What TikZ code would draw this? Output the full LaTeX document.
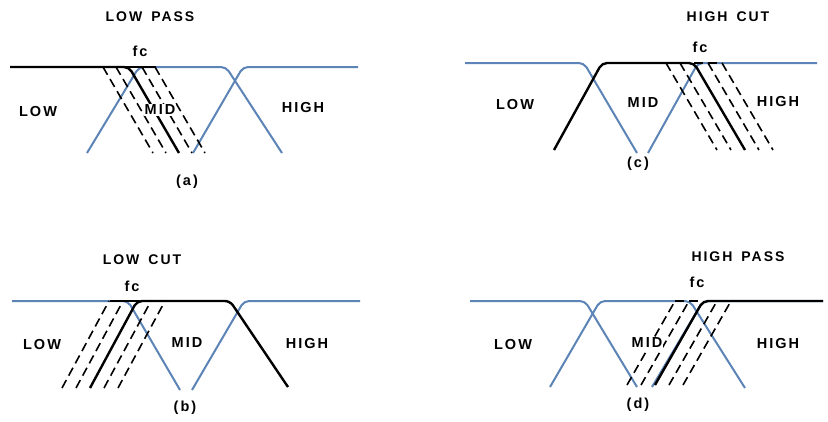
\documentclass[tikz,border=0pt]{standalone}
\usepackage{fontspec}
\setmainfont{Liberation Sans}[LetterSpace=14]
\definecolor{bandblue}{RGB}{92,132,182}
\tikzset{
  blueline/.style={draw=bandblue, line width=2pt, rounded corners=5pt},
  blackline/.style={draw=black, line width=2.4pt, rounded corners=5pt},
  dashline/.style={draw=black, line width=1.6pt, dash pattern=on 9pt off 5pt},
  lbl/.style={font=\fontsize{14.5}{16}\selectfont\bfseries, inner sep=0pt, anchor=center},
  ttl/.style={font=\fontsize{14}{16}\selectfont\bfseries, inner sep=0pt, anchor=center},
  knock/.style={fill=white, inner xsep=1pt, inner ysep=1.5pt}
}
\begin{document}
\begin{tikzpicture}[x=1pt,y=-1pt]
\useasboundingbox[fill=white] (0,0) rectangle (828,421);

% ---------------- panel (a) LOW PASS ----------------
\draw[blueline] (87,153) -- (139,67) -- (226,67) -- (282,153);
\draw[blueline] (193,153) -- (243,67) -- (358,67);
\draw[blackline] (10,67) -- (129,67) -- (179,153);
\draw[blackline,rounded corners=0pt] (125,67) -- (156,67);
\foreach \t in {103,116,142,155}
  \draw[dashline] (\t,67) -- ({\t+50},153);
\node[ttl] (ta) at (150,17) {LOW\hspace{9pt}PASS};
\node[lbl] (fa) at (140,51) {fc};
\node[lbl] (la) at (38,112) {LOW};
\node[lbl,knock] (ma) at (160,110) {MID};
\node[lbl] (ha) at (303,108) {HIGH};
\node[lbl] (ca) at (187,182) {(a)};

% ---------------- panel (c) HIGH CUT ----------------
\draw[blueline] (465,63) -- (584,63) -- (637,153);
\draw[blueline] (648,153) -- (698,63) -- (817,63);
\draw[blackline] (554,150) -- (602,63) -- (694,63) -- (745,150);
\draw[dashline] (694,63) -- (722,63);
\foreach \t in {666,680,708,722}
  \draw[dashline] (\t,63) -- ({\t+51},150);
\node[ttl] (tc) at (728,17) {HIGH\hspace{9pt}CUT};
\node[lbl] (fcc) at (700,47) {fc};
\node[lbl] (lc) at (515,105) {LOW};
\node[lbl] (mc) at (643,103) {MID};
\node[lbl] (hc) at (778,102) {HIGH};
\node[lbl] (cc) at (638,164) {(c)};

% ---------------- panel (b) LOW CUT ----------------
\draw[blueline] (12,301) -- (128,301) -- (180,390);
\draw[blueline] (192,390) -- (244,301) -- (360,301);
\draw[blackline] (90,388) -- (137,301) -- (230,301) -- (288,387);
\draw[blackline,rounded corners=0pt] (110,301) -- (140,301);
\foreach \b in {62,76,104,118}
  \draw[dashline] (\b,388) -- ({\b+47},301);
\node[ttl] (tb) at (142,260) {LOW\hspace{9pt}CUT};
\node[lbl] (fb) at (132,286) {fc};
\node[lbl] (lb) at (42,345) {LOW};
\node[lbl] (mb) at (187,343) {MID};
\node[lbl] (hb) at (307,344) {HIGH};
\node[lbl] (cb) at (185,408) {(b)};

% ---------------- panel (d) HIGH PASS ----------------
\draw[blueline] (470,301) -- (585,301) -- (637,387);
\draw[blueline] (550,387) -- (600,301) -- (690,301) -- (745,388);
\draw[blueline] (652,387) -- (703,301) -- (823,301);
\draw[blackline] (655,385) -- (703,301) -- (823,301);
\draw[dashline] (675,301) -- (703,301);
\foreach \b in {627,641,669,683}
  \draw[dashline] (\b,385) -- ({\b+48},301);
\node[ttl] (td) at (738,257) {HIGH\hspace{9pt}PASS};
\node[lbl] (fd) at (697,282) {fc};
\node[lbl] (ld) at (513,345) {LOW};
\node[lbl,knock] (md) at (647,343) {MID};
\node[lbl] (hd) at (778,344) {HIGH};
\node[lbl] (cd) at (638,405) {(d)};
\end{tikzpicture}
\end{document}
